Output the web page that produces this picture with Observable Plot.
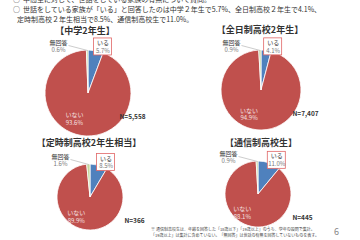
<!DOCTYPE html>
<html><head><meta charset="utf-8">
<script src="https://cdn.jsdelivr.net/npm/d3@7"></script>
<script src="https://cdn.jsdelivr.net/npm/@observablehq/plot@0.6"></script>
<style>
html,body{margin:0;padding:0;background:#fff;width:360px;height:240px;overflow:hidden;font-family:"Noto Sans CJK JP",sans-serif;color:#333}
#root{position:relative;width:360px;height:240px;overflow:hidden}
.abs{position:absolute;white-space:nowrap;line-height:1}
.hd{font-size:7px;color:#333}
.ttl{font-size:9px;font-weight:bold;color:#333;transform:translate(-50%,-50%)}
.fn{font-size:4px;color:#444}
.pg{font-size:9px;color:#888}
</style>
</head><body><div id="root"></div>
<script>
// ---- data ----
const groups = ["中学2年生", "全日制高校2年生", "定時制高校2年生相当", "通信制高校生"];
const categories = ["いる", "いない", "無回答"];
const iru = [5.7, 4.1, 8.5, 11.0];
const inai = [93.6, 94.9, 89.9, 88.1];
const mukaito = [0.6, 0.9, 1.6, 0.9];
const sampleN = [5558, 7407, 366, 445];
const colors = ["#4F81BD", "#C0504D", "#C3D69B"];

// ---- layout (pixels) ----
const layout = [
  {cx: 88, cy: 93, r: 43, tx: 85, ty: 30},
  {cx: 261, cy: 90, r: 40, tx: 260, ty: 29},
  {cx: 90, cy: 197, r: 33, tx: 89, ty: 142},
  {cx: 258, cy: 194, r: 33, tx: 261, ty: 142}
];

const root = document.getElementById("root");
function addDiv(cls, text, x, y) {
  const d = document.createElement("div");
  d.className = "abs " + cls;
  d.textContent = text;
  d.style.left = x + "px";
  d.style.top = y + "px";
  root.appendChild(d);
  return d;
}

// header text
addDiv("hd", "○", 13, -4);
addDiv("hd", "中高生に対して、世話をしている家族の有無について質問。", 23, -4);
addDiv("hd", "○", 13, 5.5);
addDiv("hd", "世話をしている家族が「いる」と回答したのは中学２年生で5.7%、全日制高校２年生で4.1%、", 23, 5.5);
addDiv("hd", "定時制高校２年生相当で8.5%、通信制高校生で11.0%。", 17, 15.5);

const series = [iru, inai, mukaito];
const fmtN = d3.format(",");

groups.forEach((g, i) => {
  const L = layout[i];
  const r = L.r;
  const W = 180, top = 16, H = 2 * r + 34;
  const rows = categories.map((c, j) => ({cat: c, value: series[j][i]}));
  const arcs = d3.pie().sort(null).value(d => d.value)(rows);
  const mid = a => (a.startAngle + a.endAngle) / 2;

  // label anchors in radius units (y up)
  const aI = mid(arcs[0]), aN = mid(arcs[1]), aM = mid(arcs[2]);
  const iruPos = {x: 1.1 * Math.sin(aI) + 6 / r, y: 1.1 * Math.cos(aI)};
  const inaiPos = {x: 0.6 * Math.sin(aN) - 10 / r, y: 0.6 * Math.cos(aN)};
  const mukPos = {x: -30 / r, y: 1 + 4 / r};
  const nPos = {x: 44 / r, y: -23 / r};
  const box = {x1: iruPos.x - 9 / r, x2: iruPos.x + 9 / r, y1: iruPos.y - 8.5 / r, y2: iruPos.y + 8.5 / r};
  const leader = {x1: mukPos.x + 10 / r, y1: mukPos.y + 1 / r, x2: Math.sin(aM), y2: Math.cos(aM)};

  const pct = v => v.toFixed(1) + "%";
  const nameLabels = [
    {...iruPos, t: categories[0], c: "#333"},
    {...inaiPos, t: categories[1], c: "#F6E3E3"},
    {...mukPos, t: categories[2], c: "#333"}
  ];
  const pctLabels = [
    {...iruPos, t: pct(rows[0].value), c: "#777"},
    {...inaiPos, t: pct(rows[1].value), c: "#F6E3E3"},
    {...mukPos, t: pct(rows[2].value), c: "#777"}
  ];

  const pie = Plot.dot(rows, {
    x: () => 0, y: () => 0, fill: "cat",
    render(index, scales, values) {
      const cx = scales.x(0), cy = scales.y(0);
      const R = scales.x(1) - scales.x(0);
      const pa = d3.pie().sort(null).value(k => rows[k].value)(Array.from(index));
      const arc = d3.arc().innerRadius(0).outerRadius(R);
      const gg = d3.create("svg:g").attr("transform", `translate(${cx},${cy})`);
      gg.selectAll("path").data(pa).join("path")
        .attr("d", arc)
        .attr("fill", d => values.fill[d.data])
        .attr("stroke", "white")
        .attr("stroke-width", 0.8);
      return gg.node();
    }
  });

  const chart = Plot.plot({
    width: W, height: H, margin: 0,
    x: {domain: [-(W / 2) / r, (W / 2) / r], axis: null},
    y: {domain: [-(H - top - r) / r, (top + r) / r], axis: null},
    color: {domain: categories, range: colors},
    style: {fontFamily: '"Noto Sans CJK JP", sans-serif', background: "transparent", overflow: "visible"},
    marks: [
      pie,
      Plot.link([leader], {x1: "x1", y1: "y1", x2: "x2", y2: "y2", stroke: "#aaa", strokeWidth: 0.6}),
      Plot.rect([box], {x1: "x1", x2: "x2", y1: "y1", y2: "y2", fill: "white", stroke: "#E06666", strokeWidth: 0.8}),
      Plot.text(nameLabels, {x: "x", y: "y", text: "t", fill: d => d.c, fontSize: 6, dy: -3.8}),
      Plot.text(pctLabels, {x: "x", y: "y", text: "t", fill: d => d.c, fontSize: 6, dy: 4}),
      Plot.text([nPos], {x: "x", y: "y", text: () => "N=" + fmtN(sampleN[i]), fill: "#333", fontSize: 6.5, fontWeight: "bold"})
    ]
  });
  chart.style.position = "absolute";
  chart.style.left = (L.cx - W / 2) + "px";
  chart.style.top = (L.cy - r - top) + "px";
  root.appendChild(chart);

  addDiv("ttl", "【" + g + "】", L.tx, L.ty);
});

// footnote + page number
addDiv("fn", "※ 通信制高校生は、年齢を回答した「18歳以下」「19歳以上」のうち、学年の設問で集計。", 151, 226.5);
addDiv("fn", "「19歳以上」は集計に含めていない。「無回答」は世話の有無を回答していないものを表す。", 151, 232.5);
addDiv("pg", "6", 334, 227);
</script>
</body></html>
